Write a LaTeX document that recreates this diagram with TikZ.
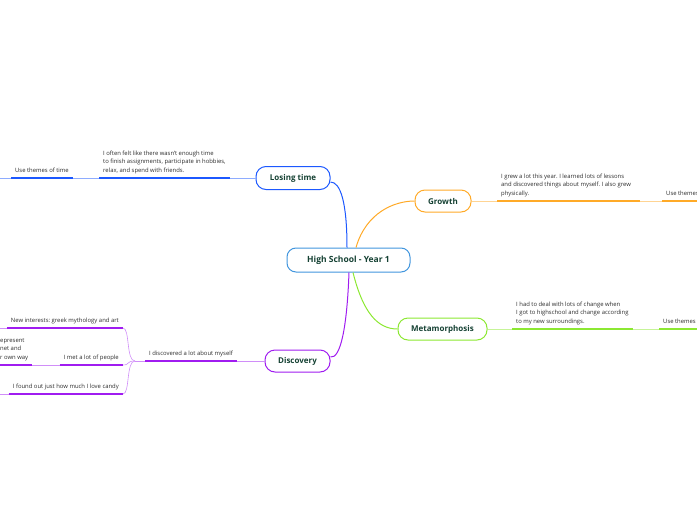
\documentclass[tikz,border=0pt]{standalone}
\usepackage{fontspec}
\setmainfont{Open Sans}
\definecolor{rootC}{RGB}{66,150,222}
\definecolor{timeC}{RGB}{28,88,255}
\definecolor{growC}{RGB}{255,170,40}
\definecolor{metaC}{RGB}{140,232,50}
\definecolor{discC}{RGB}{160,28,240}
\definecolor{titleC}{RGB}{22,66,52}
\definecolor{noteC}{RGB}{45,45,45}
\frenchspacing

\begin{document}
\begin{tikzpicture}[x=1pt,y=-1pt,
    topic/.style={draw=#1,line width=1pt,rounded corners=10pt,fill=white,
      text=titleC,font=\bfseries\fontsize{8}{9.6}\selectfont,minimum height=22pt},
    note/.style={inner xsep=4pt,inner ysep=0pt,text depth=5.5pt,align=left,
      text=noteC,font=\fontsize{5.9}{8.6}\selectfont},
    under/.style={line width=1.4pt},
    link/.style={line width=0.6pt},
    branch/.style={line width=1pt}]
  \useasboundingbox (0,0) rectangle (697,520);

  % topics
  \node[topic=rootC,rounded corners=9pt,minimum width=123pt,minimum height=24pt,
    font=\bfseries\fontsize{8.5}{10}\selectfont] (root) at (348.5,260) {High School - Year 1};
  \node[topic=timeC,minimum width=74pt,minimum height=23pt] (lose) at (293,178) {Losing time};
  \node[topic=growC,minimum width=56pt] (grow) at (443,201) {Growth};
  \node[topic=metaC,minimum width=89pt] (meta) at (442.5,329) {Metamorphosis};
  \node[topic=discC,minimum width=65pt] (disc) at (297.5,361) {Discovery};

  % branches from the centre
  \draw[branch,timeC] ([xshift=-1.5pt]root.north) .. controls +(0,-45) and +(10,0) .. ([yshift=-4pt]lose.east);
  \draw[branch,growC] ([xshift=7.5pt]root.north) .. controls +(10,-35) and +(-20,0) .. (grow.west);
  \draw[branch,metaC] ([xshift=4.5pt]root.south) .. controls +(10,40) and +(-20,0) .. (meta.west);
  \draw[branch,discC] ([xshift=0.5pt]root.south) .. controls +(-2,55) and +(10,2) .. ([yshift=4pt]disc.east);

  % losing time
  \node[note,anchor=south west] (loseNote) at (99,178) {I often felt like there wasn't enough time\\to finish assignments, participate in hobbies,\\relax, and spend with friends.};
  \node[note,anchor=south west] (loseUse) at (11,178) {Use themes of time};
  \coordinate (loseEdge) at (-2,178);
  \draw[under,timeC] (loseNote.south west) -- (loseNote.south east);
  \draw[under,timeC] (loseUse.south west) -- (loseUse.south east);
  \draw[link,timeC!50] (lose.west) -- (loseNote.south east);
  \draw[link,timeC!50] (loseNote.south west) -- (loseUse.south east);
  \draw[link,timeC!50] (loseUse.south west) -- (loseEdge);

  % growth
  \node[note,anchor=south west] (growNote) at (497,201) {I grew a lot this year. I learned lots of lessons\\and discovered things about myself. I also grew\\physically.};
  \node[note,anchor=south west] (growUse) at (662,201) {Use themes};
  \draw[under,growC] (growNote.south west) -- ([xshift=5pt]growNote.south east) coordinate (growNoteEnd);
  \draw[under,growC] (growUse.south west) -- (growUse.south east);
  \draw[link,growC!50] (grow.east) -- (growNote.south west);
  \draw[link,growC!50] (growNoteEnd) -- (growUse.south west);

  % metamorphosis
  \node[note,anchor=south west] (metaNote) at (512,329) {I had to deal with lots of change when\\I got to highschool and change according\\to my new surroundings.};
  \node[note,anchor=south west] (metaUse) at (659,329) {Use themes};
  \draw[under,metaC] (metaNote.south west) -- (metaNote.south east);
  \draw[under,metaC] (metaUse.south west) -- (metaUse.south east);
  \draw[link,metaC!50] (meta.east) -- (metaNote.south west);
  \draw[link,metaC!50] (metaNote.south east) -- (metaUse.south west);

  % discovery
  \node[note,anchor=south west] (discNote) at (145,361) {I discovered a lot about myself};
  \coordinate (discFork) at (135,361);
  \node[note,anchor=south east] (discArt) at (123,328) {New interests: greek mythology and art};
  \node[note,anchor=south east] (discPeople) at (123,365) {I met a lot of people};
  \node[note,anchor=south east] (discCandy) at (123,394) {I found out just how much I love candy};
  \node[note,anchor=south west] (discMet) at (-4,365) {epresent\\net and\\r own way};
  \coordinate (artEdge) at (-2,328);
  \coordinate (candyEdge) at (-2,394);
  \foreach \n in {discNote,discArt,discPeople,discCandy,discMet}
    \draw[under,discC] (\n.south west) -- (\n.south east);
  \draw[link,discC!50] (disc.west) -- (discNote.south east);
  \draw[link,discC!50] (discNote.south west) -- (discFork);
  \foreach \n in {discArt,discPeople,discCandy}
    \draw[link,discC!50] (discFork) .. controls +(-9,0) and +(7,0) .. (\n.south east);
  \draw[link,discC!50] (discPeople.south west) -- (discMet.south east);
  \draw[link,discC!50] (discArt.south west) -- (artEdge);
  \draw[link,discC!50] (discCandy.south west) -- (candyEdge);
\end{tikzpicture}
\end{document}
